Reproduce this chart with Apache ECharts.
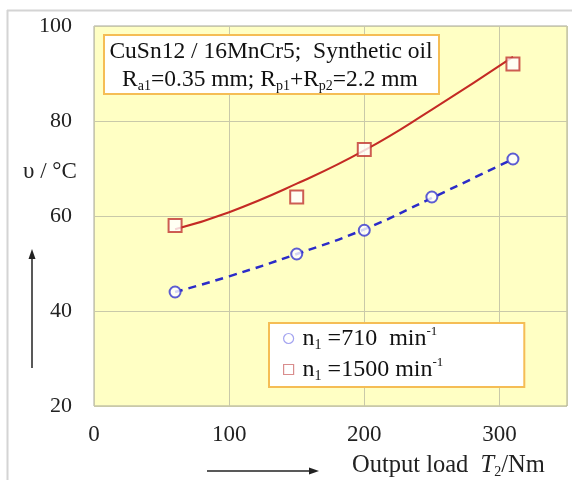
<!DOCTYPE html>
<html>
<head>
<meta charset="utf-8">
<script src="https://cdn.jsdelivr.net/npm/echarts@6/dist/echarts.min.js"></script>
<style>
  html, body { margin: 0; padding: 0; background: #fff; }
  #chart { width: 572px; height: 480px; }
</style>
</head>
<body>
<div id="chart"></div>
<script>
// measured points
const loadMeas710 = [60, 150, 200, 250, 310];
const temp710 = [44, 52, 57, 64, 72];
const loadMeas1500 = [60, 150, 200, 310];
const temp1500 = [58, 64, 74, 92];

// fitted curves
const loadFit = [60, 100, 150, 200, 250, 310];
const fit710 = [44, 47.3, 52, 57.2, 63.8, 72];
const fit1500 = [57.2, 60.8, 66.8, 73.8, 82.4, 93.5];

const xTicks = [0, 100, 200, 300];
const yTicks = [20, 40, 60, 80, 100];

const serif = '"Liberation Serif", "DejaVu Serif", serif';
const boxOrange = '#f5bd55';

function pairs(xs, ys) {
  return xs.map((x, i) => [x, ys[i]]);
}

const chart = echarts.init(document.getElementById('chart'), null, { renderer: 'canvas' });

const richBase = {
  sub: { fontSize: 14, lineHeight: 14, verticalAlign: 'bottom', fontFamily: serif, color: '#111' },
  sup: { fontSize: 13, lineHeight: 13, verticalAlign: 'top', fontFamily: serif, color: '#111' }
};

const option = {
  backgroundColor: '#fff',
  animation: false,
  grid: {
    left: 94, top: 26, width: 473, height: 380,
    show: true,
    backgroundColor: '#ffffc4',
    borderColor: '#a8a898',
    borderWidth: 1
  },
  xAxis: {
    type: 'value',
    min: 0, max: 350, interval: 100,
    axisLine: { show: false },
    axisTick: { show: false },
    splitLine: { show: true, lineStyle: { color: '#c9c9a9', width: 1 } },
    axisLabel: {
      margin: 17, fontSize: 23, fontFamily: serif, color: '#222',
      showMaxLabel: false,
      formatter: v => xTicks.includes(v) ? String(v) : ''
    }
  },
  yAxis: {
    type: 'value',
    min: 20, max: 100, interval: 20,
    axisLine: { show: false },
    axisTick: { show: false },
    splitLine: { show: true, lineStyle: { color: '#c9c9a9', width: 1 } },
    axisLabel: {
      margin: 22, fontSize: 22, fontFamily: serif, color: '#222',
      formatter: v => yTicks.includes(v) ? String(v) : ''
    }
  },
  legend: {
    orient: 'vertical',
    left: 269, top: 323,
    padding: [2, 81, 4, 14],
    itemGap: 4,
    itemWidth: 10, itemHeight: 10,
    backgroundColor: '#fff',
    borderColor: boxOrange,
    borderWidth: 2,
    borderRadius: 0,
    data: [
      { name: 'n1=710', icon: 'circle', itemStyle: { color: '#fff', borderColor: '#8c8cec', borderWidth: 1.2 } },
      { name: 'n1=1500', icon: 'rect', itemStyle: { color: '#fff', borderColor: '#d07070', borderWidth: 1.2 } }
    ],
    formatter: function(name) {
      if (name === 'n1=710') return 'n{sub|1} =710  min{sup|-1}';
      return 'n{sub|1} =1500 min{sup|-1}';
    },
    textStyle: {
      fontSize: 24, fontFamily: serif, color: '#111', lineHeight: 27,
      padding: [0, 0, 0, 4],
      rich: richBase
    }
  },
  graphic: [
    // outer frame
    { type: 'line', shape: { x1: 7, y1: 10.5, x2: 572, y2: 10.5 }, style: { stroke: '#d4d4d4', lineWidth: 2 } },
    { type: 'line', shape: { x1: 7.5, y1: 10, x2: 7.5, y2: 480 }, style: { stroke: '#d4d4d4', lineWidth: 2 } },
    // info box
    { type: 'rect', z: 100, shape: { x: 104, y: 35, width: 335, height: 59 },
      style: { fill: '#fff', stroke: boxOrange, lineWidth: 2 } },
    { type: 'text', z: 101, x: 271, y: 52,
      style: { text: 'CuSn12 / 16MnCr5;  Synthetic oil', font: '23.5px ' + serif, fill: '#111',
               align: 'center', verticalAlign: 'middle' } },
    { type: 'text', z: 101, x: 270, y: 80,
      style: {
        text: 'R{sub|a1}=0.35 mm; R{sub|p1}+R{sub|p2}=2.2 mm',
        font: '23.5px ' + serif, fill: '#111', lineHeight: 27,
        align: 'center', verticalAlign: 'middle',
        rich: richBase
      } },
    // y axis name and arrow
    { type: 'text', x: 50, y: 172,
      style: { text: 'υ / °C', font: '23px ' + serif, fill: '#222', align: 'center', verticalAlign: 'middle' } },
    { type: 'line', shape: { x1: 32, y1: 368, x2: 32, y2: 256 }, style: { stroke: '#222', lineWidth: 1.5 } },
    { type: 'polygon', shape: { points: [[32, 249], [28.5, 259], [35.5, 259]] }, style: { fill: '#222' } },
    // x axis name and arrow
    { type: 'line', shape: { x1: 207, y1: 471, x2: 312, y2: 471 }, style: { stroke: '#222', lineWidth: 1.5 } },
    { type: 'polygon', shape: { points: [[319, 471], [309, 467.5], [309, 474.5]] }, style: { fill: '#222' } },
    { type: 'text', x: 352, y: 466,
      style: {
        text: 'Output load  {it|T}{sub|2}/Nm',
        font: '24.5px ' + serif, fill: '#222', lineHeight: 27, verticalAlign: 'middle',
        rich: Object.assign({ it: { fontStyle: 'italic', fontSize: 24.5, fontFamily: serif, color: '#222' } }, richBase)
      } }
  ],
  series: [
    {
      name: 'fit1500', type: 'line', smooth: true, symbol: 'none',
      data: pairs(loadFit, fit1500),
      lineStyle: { color: '#c42a24', width: 2 },
      z: 3
    },
    {
      name: 'fit710', type: 'line', smooth: true, symbol: 'none',
      data: pairs(loadFit, fit710),
      lineStyle: { color: '#2b2bc8', width: 2.5, type: [8, 6] },
      z: 3
    },
    {
      name: 'n1=710', type: 'scatter',
      symbol: 'emptyCircle', symbolSize: 11,
      data: pairs(loadMeas710, temp710),
      itemStyle: { color: '#3535d0', borderWidth: 1.6 },
      z: 4
    },
    {
      name: 'n1=1500', type: 'scatter',
      symbol: 'emptyRect', symbolSize: 13,
      data: pairs(loadMeas1500, temp1500),
      itemStyle: { color: '#c03530', borderWidth: 1.6 },
      z: 4
    }
  ]
};

chart.setOption(option);
</script>
</body>
</html>
